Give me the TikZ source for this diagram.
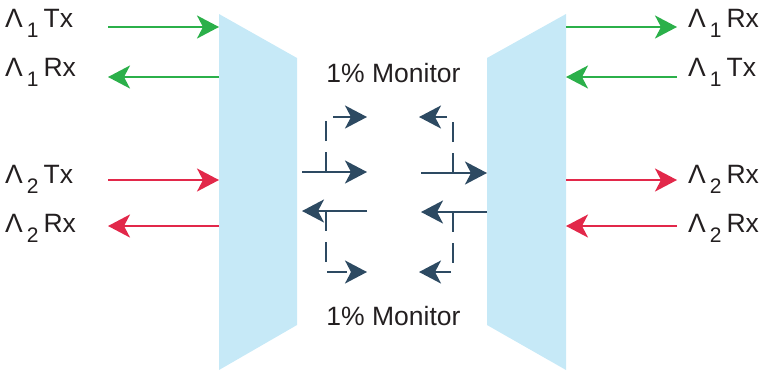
\documentclass[tikz,border=0pt]{standalone}
\usepackage{fontspec}
\setmainfont{Liberation Sans}
\usetikzlibrary{arrows.meta}

\definecolor{muxBlue}{HTML}{C6E9F7}
\definecolor{chGreen}{HTML}{2BB04A}
\definecolor{chRed}{HTML}{E2284A}
\definecolor{monNavy}{HTML}{2D4A62}
\definecolor{txtGray}{HTML}{231F20}

\newcommand{\chan}[2]{\fontsize{26.5bp}{30bp}\selectfont Λ\hspace{4bp}\raisebox{-10bp}{\fontsize{21bp}{21bp}\selectfont #1}\hspace{5bp}#2}

\tikzset{
    chan/.style={anchor=base west, inner sep=0pt, text=txtGray},
    mon/.style={anchor=base, inner sep=0pt, text=txtGray, font=\fontsize{26.5bp}{30bp}\selectfont},
    fiber/.style={->, line width=2bp},
    tap/.style={->, line width=2bp, monNavy, dash pattern=on 20bp off 11bp},
}

\begin{document}
\begin{tikzpicture}[x=1bp,y=-1bp,>={Stealth[length=22bp,width=23bp,inset=6bp]}]
    \useasboundingbox (0,0) rectangle (759,370);

    % Mux
    \fill[muxBlue] (219,14) -- (297,58) -- (297,325) -- (219,370) -- cycle;
    \fill[muxBlue] (566,14) -- (487,58) -- (487,325) -- (566,370) -- cycle;

    % Labels
    \node[chan] (txOneL) at (5,27)  {\chan{1}{Tx}};
    \node[chan] (rxOneL) at (5,76)  {\chan{1}{Rx}};
    \node[chan] (txTwoL) at (5,183) {\chan{2}{Tx}};
    \node[chan] (rxTwoL) at (5,232) {\chan{2}{Rx}};

    \node[chan] (rxOneR) at (688,27)  {\chan{1}{Rx}};
    \node[chan] (txOneR) at (688,76)  {\chan{1}{Tx}};
    \node[chan] (rxTwoR) at (688,183) {\chan{2}{Rx}};
    \node[chan] (txTwoR) at (688,232) {\chan{2}{Rx}};

    \node[mon] (monTop) at (393.5,82)  {1\% Monitor};
    \node[mon] (monBot) at (393.5,325) {1\% Monitor};

    % Ports
    \coordinate (fibOneTxL) at (108,27);   \coordinate (muxOneTxL) at (219,27);
    \coordinate (fibOneRxL) at (108,77);   \coordinate (muxOneRxL) at (219,77);
    \coordinate (fibTwoTxL) at (108,180);  \coordinate (muxTwoTxL) at (219,180);
    \coordinate (fibTwoRxL) at (108,226);  \coordinate (muxTwoRxL) at (219,226);

    \coordinate (fibOneRxR) at (677,27);   \coordinate (muxOneRxR) at (566,27);
    \coordinate (fibOneTxR) at (677,77);   \coordinate (muxOneTxR) at (566,77);
    \coordinate (fibTwoRxR) at (677,180);  \coordinate (muxTwoRxR) at (566,180);
    \coordinate (fibTwoTxR) at (677,226);  \coordinate (muxTwoTxR) at (566,226);

    % Channels
    \draw[fiber,chGreen] (fibOneTxL) -- (muxOneTxL);
    \draw[fiber,chGreen] (muxOneRxL) -- (fibOneRxL);
    \draw[fiber,chRed]   (fibTwoTxL) -- (muxTwoTxL);
    \draw[fiber,chRed]   (muxTwoRxL) -- (fibTwoRxL);

    \draw[fiber,chGreen] (muxOneRxR) -- (fibOneRxR);
    \draw[fiber,chGreen] (fibOneTxR) -- (muxOneTxR);
    \draw[fiber,chRed]   (muxTwoRxR) -- (fibTwoRxR);
    \draw[fiber,chRed]   (fibTwoTxR) -- (muxTwoTxR);

    % Trunk
    \coordinate (trunkUL) at (302,172);  \coordinate (trunkUM) at (367,172);
    \coordinate (trunkLL) at (302,211);  \coordinate (trunkLM) at (367,211);
    \coordinate (trunkUR) at (487,173);  \coordinate (trunkUN) at (421,173);
    \coordinate (trunkLR) at (487,212);  \coordinate (trunkLN) at (421,212);

    \draw[fiber,monNavy] (trunkUL) -- (trunkUM);
    \draw[fiber,monNavy] (trunkLM) -- (trunkLL);
    \draw[fiber,monNavy] (trunkUN) -- (trunkUR);
    \draw[fiber,monNavy] (trunkLR) -- (trunkLN);

    % Taps
    \coordinate (tapUL) at (326,172);  \coordinate (monUL) at (367,117);
    \coordinate (tapLL) at (326,211);  \coordinate (monLL) at (367,272);
    \coordinate (tapUR) at (453,173);  \coordinate (monUR) at (419,117);
    \coordinate (tapLR) at (453,212);  \coordinate (monLR) at (419,272);

    \draw[tap] (tapUL) |- (monUL);
    \draw[tap] (tapLL) |- (monLL);
    \draw[tap] (tapUR) |- (monUR);
    \draw[tap] (tapLR) |- (monLR);
\end{tikzpicture}
\end{document}
